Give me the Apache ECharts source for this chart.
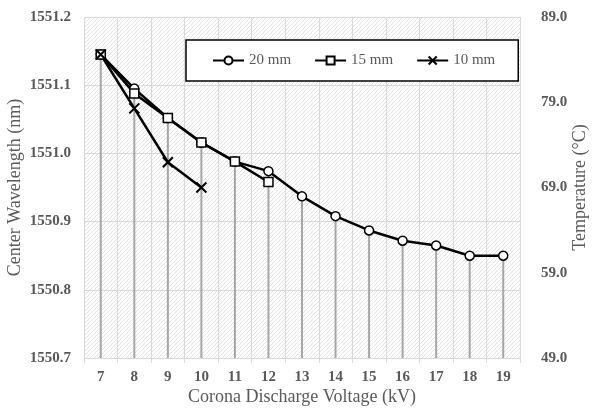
<!DOCTYPE html>
<html><head><meta charset="utf-8">
<script src="https://cdn.jsdelivr.net/npm/echarts@6/dist/echarts.min.js"></script>
<style>html,body{margin:0;padding:0;background:#fff}#c{width:593px;height:409px}</style>
</head><body><div id="c"></div>
<script>
const categories = ['7','8','9','10','11','12','13','14','15','16','17','18','19'];
const s20 = [1551.145,1551.095,1551.052,1551.016,1550.988,1550.974,1550.937,1550.908,1550.887,1550.872,1550.865,1550.850,1550.850];
const s15 = [1551.145,1551.088,1551.052,1551.016,1550.988,1550.958,null,null,null,null,null,null,null];
const s10 = [1551.145,1551.066,1550.987,1550.950,null,null,null,null,null,null,null,null,null];
const leftTicks = [1550.7,1550.8,1550.9,1551.0,1551.1,1551.2];
const rightTicks = [49,59,69,79,89];

const drop = categories.map((c,i)=>Math.max(...[s20[i],s15[i],s10[i]].filter(v=>v!=null)));

const pc = document.createElement('canvas');
pc.width = 4; pc.height = 4;
const g = pc.getContext('2d');
g.fillStyle = '#ffffff'; g.fillRect(0,0,4,4);
g.strokeStyle = '#e3e3e3'; g.lineWidth = 1;
g.beginPath(); g.moveTo(0,4); g.lineTo(4,0); g.stroke();
g.beginPath(); g.moveTo(-1,1); g.lineTo(1,-1); g.stroke();
g.beginPath(); g.moveTo(3,5); g.lineTo(5,3); g.stroke();

const font = "'Liberation Serif', 'Times New Roman', serif";
const gray = '#595959';
const chart = echarts.init(document.getElementById('c'));
const lineBase = {type:'line', yAxisIndex:0, lineStyle:{color:'#000', width:2.5}, itemStyle:{color:'#fff', borderColor:'#000', borderWidth:1.5}, symbolSize:9, z:5, connectNulls:false, animation:false};
chart.setOption({
  animation:false,
  grid:{left:84, right:73, top:17, bottom:51, containLabel:false, outerBoundsMode:'none', show:true, backgroundColor:{image:pc, repeat:'repeat'}, borderWidth:0},
  legend:{left:186, top:40, width:310, backgroundColor:'#fff', borderColor:'#000', borderWidth:1.5, padding:[13,23,13,26], itemGap:23, itemWidth:31, itemHeight:10,
    textStyle:{fontFamily:font, fontSize:15, color:gray}, data:['20 mm','15 mm','10 mm']},
  xAxis:{type:'category', data:categories, boundaryGap:true, name:'Corona Discharge Voltage (kV)', nameLocation:'middle', nameGap:30, nameMoveOverlap:false,
    nameTextStyle:{fontFamily:font, fontSize:18, color:gray},
    axisLine:{lineStyle:{color:'#d9d9d9', width:1}}, axisTick:{show:true, length:5, lineStyle:{color:'#d9d9d9'}},
    axisLabel:{fontFamily:font, fontSize:15, fontWeight:'bold', color:gray, margin:12},
    splitLine:{show:true, lineStyle:{color:'#d9d9d9', width:1}}},
  yAxis:[
    {type:'value', min:leftTicks[0], max:leftTicks[leftTicks.length-1], interval:0.1, name:'Center Wavelength (nm)', nameLocation:'middle', nameGap:60, nameMoveOverlap:false,
     nameTextStyle:{fontFamily:font, fontSize:18, color:gray},
     axisLine:{show:false}, axisTick:{show:false},
     axisLabel:{fontFamily:font, fontSize:15, fontWeight:'bold', color:gray, margin:13, formatter:v=>v.toFixed(1)},
     splitLine:{lineStyle:{color:'#d9d9d9', width:1}}},
    {type:'value', min:rightTicks[0], max:rightTicks[rightTicks.length-1], interval:10, position:'right', name:'Temperature (\u00b0C)', nameLocation:'middle', nameGap:51, nameMoveOverlap:false,
     nameRotate:90,
     nameTextStyle:{fontFamily:font, fontSize:18, color:gray},
     axisLine:{show:false}, axisTick:{show:false},
     axisLabel:{fontFamily:font, fontSize:15, fontWeight:'bold', color:gray, margin:21, formatter:v=>v.toFixed(1)},
     splitLine:{show:false}}
  ],
  series:[
    {type:'bar', name:'drop', data:drop, barWidth:2, itemStyle:{color:'#a6a6a6'}, z:2, yAxisIndex:0, legendHoverLink:false},
    Object.assign({}, lineBase, {name:'20 mm', data:s20, symbol:'circle'}),
    Object.assign({}, lineBase, {name:'15 mm', data:s15, symbol:'rect'}),
    Object.assign({}, lineBase, {name:'10 mm', data:s10, symbol:'path://M0,0L10,10M10,0L0,10', symbolSize:10, itemStyle:{color:'none', borderColor:'#000', borderWidth:2}})
  ]
});
</script></body></html>
